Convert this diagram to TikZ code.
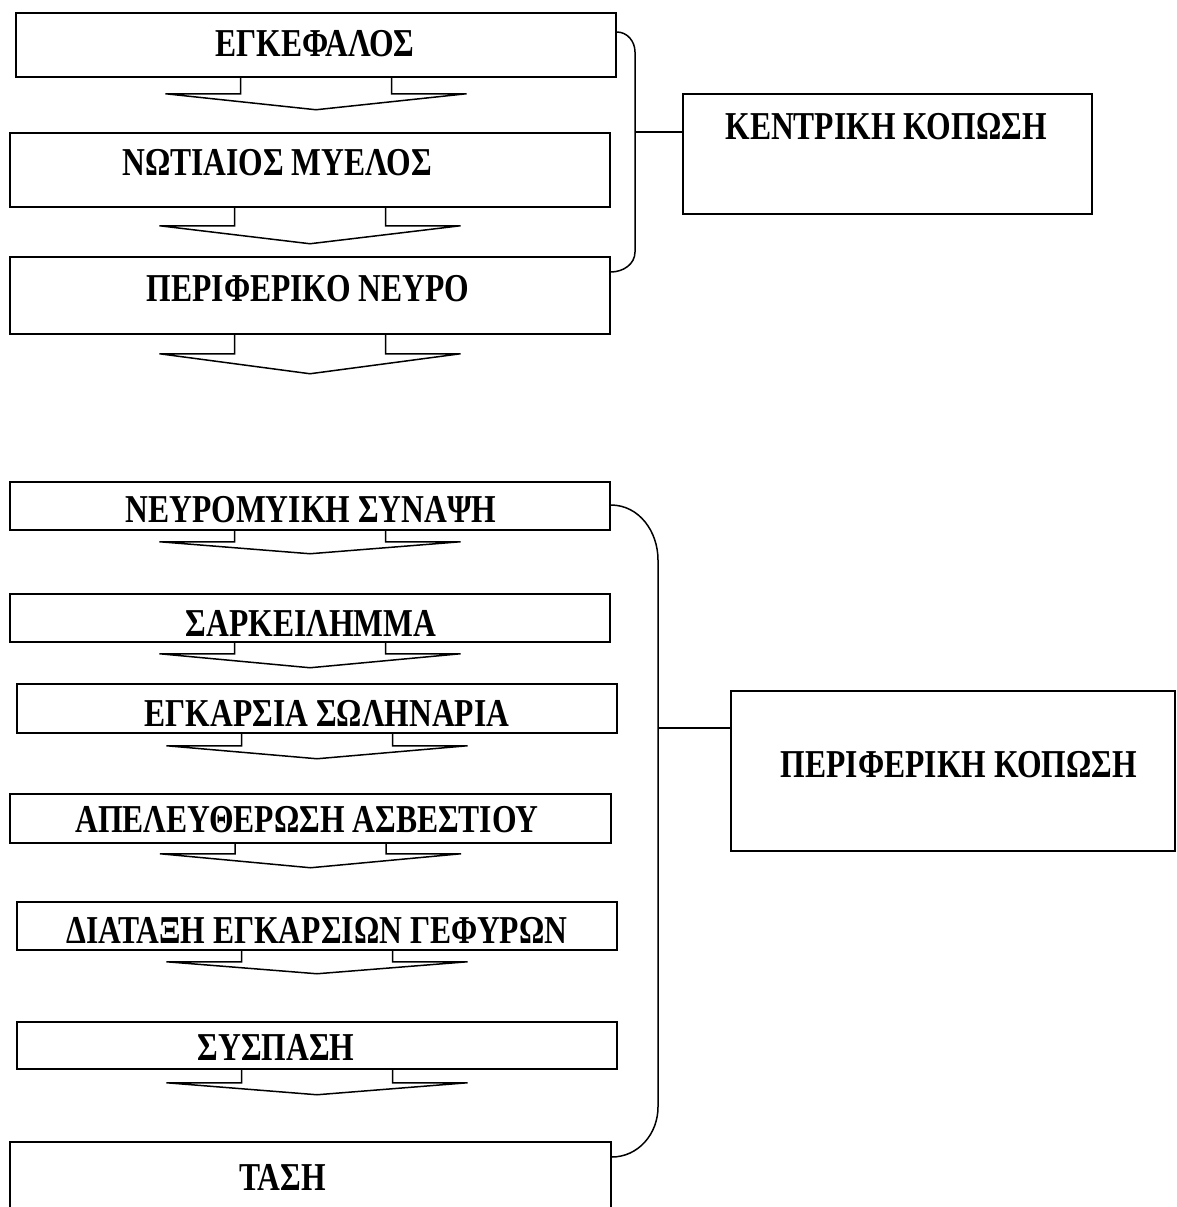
\documentclass[tikz,border=0pt]{standalone}
\usepackage{fontspec}
\newfontfamily\boxfont[FakeStretch=0.8]{Liberation Serif Bold}
\usetikzlibrary{positioning}

\tikzset{
  box/.style={draw, rectangle, line width=1.5pt, inner sep=0pt},
  lbl/.style={inner sep=0pt, font=\boxfont\fontsize{39.5}{42}\selectfont},
  link/.style={line width=1.5pt},
}

% block arrow under a box: box name, wing depth, tip depth (px)
\newcommand{\blockdown}[3]{%
  \draw[link] ([xshift=-75.5pt]#1.south) -- ([xshift=-75.5pt,yshift=-#2pt]#1.south)
    -- ([xshift=-150.5pt,yshift=-#2pt]#1.south) -- ([yshift=-#3pt]#1.south)
    -- ([xshift=150.5pt,yshift=-#2pt]#1.south) -- ([xshift=75.5pt,yshift=-#2pt]#1.south)
    -- ([xshift=75.5pt]#1.south);}

\begin{document}
\begin{tikzpicture}[x=1pt, y=-1pt]
  \useasboundingbox (0,0) rectangle (1176,1207);
  \clip (0,0) rectangle (1176,1207);

  % central chain
  \node[box, minimum width=600, minimum height=64] (brain) at (316,45) {};
  \node[box, minimum width=600, minimum height=74] (spine) at (310,170) {};
  \node[box, minimum width=600, minimum height=77] (nerve) at (310,295.5) {};
  \node[box, minimum width=409, minimum height=120] (central) at (887.5,154) {};

  \node[lbl] at (315,44) {ΕΓΚΕΦΑΛΟΣ};
  \node[lbl] at (277,163) {ΝΩΤΙΑΙΟΣ ΜΥΕΛΟΣ};
  \node[lbl] at (308,289) {ΠΕΡΙΦΕΡΙΚΟ ΝΕΥΡΟ};
  \node[lbl] at (886,127) {ΚΕΝΤΡΙΚΗ ΚΟΠΩΣΗ};

  \blockdown{brain}{16}{32}
  \blockdown{spine}{18}{36}
  \blockdown{nerve}{19}{39}

  \coordinate (tjoin) at (635,132);
  \draw[link] ([yshift=13pt]brain.east) to[out=0, in=90] (635,52)
    -- (635,252) to[out=-90, in=0] ([yshift=23.5pt]nerve.east);
  \draw[link] (tjoin) -- (tjoin -| central.west);

  % peripheral chain
  \node[box, minimum width=600, minimum height=48] (synapse) at (310,506) {};
  \node[box, minimum width=600, minimum height=48] (sarco) at (310,618) {};
  \node[box, minimum width=600, minimum height=49] (tubules) at (317,708.5) {};
  \node[box, minimum width=601, minimum height=49] (calcium) at (310.5,818.5) {};
  \node[box, minimum width=600, minimum height=48] (bridges) at (317,926) {};
  \node[box, minimum width=600, minimum height=47] (contract) at (317,1045.5) {};
  \node[box, minimum width=601, minimum height=100] (tension) at (310.5,1192) {};
  \node[box, minimum width=444, minimum height=160] (peripheral) at (953,771) {};

  \node[lbl] at (311,510) {ΝΕΥΡΟΜΥΙΚΗ ΣΥΝΑΨΗ};
  \node[lbl] at (311,623) {ΣΑΡΚΕΙΛΗΜΜΑ};
  \node[lbl] at (327,713) {ΕΓΚΑΡΣΙΑ ΣΩΛΗΝΑΡΙΑ};
  \node[lbl] at (307,820) {ΑΠΕΛΕΥΘΕΡΩΣΗ ΑΣΒΕΣΤΙΟΥ};
  \node[lbl] at (317,930) {ΔΙΑΤΑΞΗ ΕΓΚΑΡΣΙΩΝ ΓΕΦΥΡΩΝ};
  \node[lbl] at (276,1047) {ΣΥΣΠΑΣΗ};
  \node[lbl] at (283,1177) {ΤΑΣΗ};
  \node[lbl] at (959,765) {ΠΕΡΙΦΕΡΙΚΗ ΚΟΠΩΣΗ};

  \blockdown{synapse}{11}{23}
  \blockdown{sarco}{11}{25}
  \blockdown{tubules}{12}{25}
  \blockdown{calcium}{10}{24}
  \blockdown{bridges}{11}{23}
  \blockdown{contract}{13}{25}

  \coordinate (bjoin) at (658,728);
  \draw[link] ([yshift=1pt]synapse.east) to[out=0, in=90] (658,560)
    -- (658,1107) to[out=-90, in=0] ([yshift=35pt]tension.east);
  \draw[link] (bjoin) -- (bjoin -| peripheral.west);
\end{tikzpicture}
\end{document}
